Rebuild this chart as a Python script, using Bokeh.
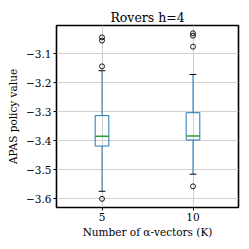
from bokeh.plotting import figure
from bokeh.models import FixedTicker, Range1d
from bokeh.embed import file_html
from bokeh.resources import INLINE

# ---- data ----
categories = ["5", "10"]
positions = [1, 2]
q1 = [-3.419, -3.398]
q3 = [-3.314, -3.304]
medians = [-3.385, -3.384]
whisker_lo = [-3.575, -3.516]
whisker_hi = [-3.159, -3.172]
outliers_5 = [-3.144, -3.055, -3.044, -3.601]
outliers_10 = [-3.076, -3.038, -3.030, -3.558]
y_ticks = [-3.6, -3.5, -3.4, -3.3, -3.2, -3.1]

FONT = "DejaVu Serif"
BLUE = "#1f77b4"
GREEN = "#2ca02c"

p = figure(width=241, height=241, output_backend="svg", toolbar_location=None,
           x_range=Range1d(0.5, 2.5), y_range=Range1d(-3.631, -3.003),
           min_border_left=56, min_border_right=3, min_border_top=25,
           min_border_bottom=34, title="Rovers h=4")
p.title.align = "center"
p.title.text_font = FONT
p.title.text_font_size = "12.5px"
p.title.text_font_style = "normal"
p.title.text_color = "black"
p.title.standoff = 2
p.background_fill_color = "white"
p.border_fill_color = "white"
p.outline_line_color = "black"
p.outline_line_width = 1.6

# boxes
bw = 0.15
left = [x - bw / 2 for x in positions]
right = [x + bw / 2 for x in positions]
p.quad(left=left, right=right, bottom=q1, top=q3, fill_color=None,
       line_color=BLUE, line_width=1)
# whiskers
p.segment(x0=positions, y0=q3, x1=positions, y1=whisker_hi, line_color=BLUE, line_width=1)
p.segment(x0=positions, y0=q1, x1=positions, y1=whisker_lo, line_color=BLUE, line_width=1)
# caps
cw = bw / 4
p.segment(x0=[x - cw for x in positions], y0=whisker_hi, x1=[x + cw for x in positions],
          y1=whisker_hi, line_color="black", line_width=1)
p.segment(x0=[x - cw for x in positions], y0=whisker_lo, x1=[x + cw for x in positions],
          y1=whisker_lo, line_color="black", line_width=1)
# medians
p.segment(x0=left, y0=medians, x1=right, y1=medians, line_color=GREEN, line_width=1.5)
# fliers
p.scatter(x=[positions[0]] * len(outliers_5) + [positions[1]] * len(outliers_10),
          y=outliers_5 + outliers_10, marker="circle", size=5, fill_color=None,
          line_color="black", line_width=0.9)

# axes
p.xaxis.ticker = FixedTicker(ticks=positions)
p.xaxis.major_label_overrides = {positions[i]: categories[i] for i in range(2)}
p.yaxis.ticker = FixedTicker(ticks=y_ticks)
p.yaxis.major_label_overrides = {t: ("%.1f" % t).replace("-", "\u2212") for t in y_ticks}
for ax in (p.xaxis[0], p.yaxis[0]):
    ax.axis_line_color = None
    ax.major_tick_out = 3
    ax.major_tick_in = 0
    ax.minor_tick_line_color = None
    ax.major_tick_line_color = "black"
    ax.major_label_text_font = FONT
    ax.major_label_text_font_size = "10.5px"
    ax.major_label_text_color = "black"
    ax.major_label_standoff = 2
    ax.axis_label_text_font = FONT
    ax.axis_label_text_font_size = "10.5px"
    ax.axis_label_text_font_style = "normal"
    ax.axis_label_text_color = "black"
p.yaxis.axis_label = "APAS policy value"
p.yaxis.axis_label_standoff = 4
p.xaxis.axis_label = "Number of \u03b1-vectors (K)"
p.xaxis.axis_label_standoff = 2

p.xgrid.ticker = FixedTicker(ticks=positions)
p.ygrid.ticker = FixedTicker(ticks=y_ticks)
for g in (p.xgrid[0], p.ygrid[0]):
    g.grid_line_color = "#cfcfcf"
    g.grid_line_width = 1

open("out.html", "w").write(file_html(p, INLINE))
